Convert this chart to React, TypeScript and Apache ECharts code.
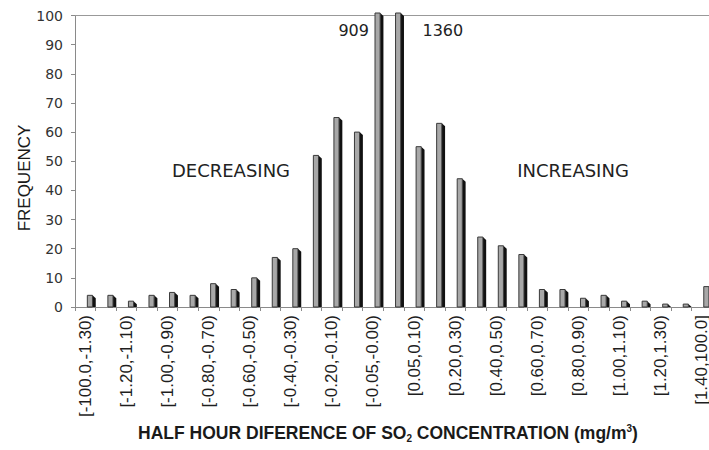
import React, { useEffect, useRef } from "react";
import * as echarts from "echarts";

const categories = [
  "[-100.0,-1.30)", "[-1.30,-1.20)", "[-1.20,-1.10)", "[-1.10,-1.00)", "[-1.00,-0.90)",
  "[-0.90,-0.80)", "[-0.80,-0.70)", "[-0.70,-0.60)", "[-0.60,-0.50)", "[-0.50,-0.40)",
  "[-0.40,-0.30)", "[-0.30,-0.20)", "[-0.20,-0.10)", "[-0.10,-0.05)", "[-0.05,-0.00)",
  "[0.00,0.05)", "[0.05,0.10)", "[0.10,0.20)", "[0.20,0.30)", "[0.30,0.40)",
  "[0.40,0.50)", "[0.50,0.60)", "[0.60,0.70)", "[0.70,0.80)", "[0.80,0.90)",
  "[0.90,1.00)", "[1.00,1.10)", "[1.10,1.20)", "[1.20,1.30)", "[1.30,1.40)",
  "[1.40,100.0]",
];

const frequency = [
  4, 4, 2, 4, 5, 4, 8, 6, 10, 17, 20, 52, 65, 60, 909,
  1360, 55, 63, 44, 24, 21, 18, 6, 6, 3, 4, 2, 2, 1, 1, 7,
];

const yMin = 0;
const yMax = 100;
const yInterval = 10;

const regionLabels = ["DECREASING", "INCREASING"];
const yTitle = "FREQUENCY";

export default function App() {
  const ref = useRef<HTMLDivElement>(null);

  useEffect(() => {
    if (!ref.current) return;
    const chart = echarts.init(ref.current, null, { renderer: "svg" });

    const renderItem = (params: any, api: any) => {
      const idx = api.value(0);
      const v = api.value(1);
      const shown = Math.min(v, yMax);
      const base = api.coord([idx, 0]);
      const top = api.coord([idx, shown]);
      const bw = api.size([1, 0])[0];
      const cx = base[0];
      const faceX = cx + bw * 0.1;
      const faceW = bw * 0.25;
      const sideW = bw * 0.16;
      const topY = v > yMax ? top[1] - 2.5 : top[1];
      const dip = Math.min(3, base[1] - topY);
      const children: any[] = [
        {
          type: "polygon",
          shape: {
            points: [
              [faceX + faceW, topY],
              [faceX + faceW + sideW, topY + dip],
              [faceX + faceW + sideW, base[1]],
              [faceX + faceW, base[1]],
            ],
          },
          style: { fill: "#111111" },
        },
        {
          type: "rect",
          shape: { x: faceX, y: topY, width: faceW, height: base[1] - topY },
          style: { fill: "#a8a8a8", stroke: "#3a3a3a", lineWidth: 1 },
        },
      ];
      if (v > yMax) {
        const nextOver = idx + 1 < frequency.length && frequency[idx + 1] > yMax;
        children.push({
          type: "text",
          style: {
            text: String(v),
            x: nextOver ? cx - 4 : cx + 29,
            y: top[1] + 15,
            align: nextOver ? "right" : "left",
            verticalAlign: "middle",
            fontSize: 16,
            fontFamily: "DejaVu Sans",
            fill: "#222222",
          },
        });
      }
      return { type: "group", children };
    };

    chart.setOption({
      animation: false,
      backgroundColor: "#ffffff",
      grid: {
        left: 75,
        top: 15.5,
        width: 637,
        height: 291.5,
        containLabel: false,
        outerBoundsMode: "none",
      },
      xAxis: [
        {
          type: "category",
          data: categories,
          position: "bottom",
          axisLine: { show: true, lineStyle: { color: "#8a8a8a", width: 1 } },
          axisTick: { show: true, interval: 0, length: 4, lineStyle: { color: "#8a8a8a" } },
          axisLabel: {
            interval: 1,
            rotate: 90,
            margin: 8,
            fontSize: 17,
            fontFamily: "Liberation Sans",
            color: "#1e1e1e",
          },
          splitLine: { show: false },
        },
        {
          type: "category",
          data: categories,
          position: "top",
          axisLine: { show: true, lineStyle: { color: "#999999", width: 1 } },
          axisTick: { show: false },
          axisLabel: { show: false },
          splitLine: { show: false },
        },
      ],
      yAxis: {
        type: "value",
        min: yMin,
        max: yMax,
        interval: yInterval,
        axisLine: { show: true, lineStyle: { color: "#8a8a8a", width: 1 } },
        axisTick: { show: true, length: 4, lineStyle: { color: "#8a8a8a" } },
        axisLabel: {
          margin: 12,
          fontSize: 14,
          fontFamily: "DejaVu Sans",
          color: "#333333",
        },
        splitLine: { show: false },
      },
      graphic: [
        {
          type: "text",
          x: 231,
          y: 170,
          style: {
            text: regionLabels[0],
            align: "center",
            verticalAlign: "middle",
            fontSize: 18,
            fontFamily: "DejaVu Sans",
            fill: "#222222",
          },
        },
        {
          type: "text",
          x: 573,
          y: 170,
          style: {
            text: regionLabels[1],
            align: "center",
            verticalAlign: "middle",
            fontSize: 18,
            fontFamily: "DejaVu Sans",
            fill: "#222222",
          },
        },
        {
          type: "text",
          x: 24,
          y: 178,
          rotation: Math.PI / 2,
          style: {
            text: yTitle,
            align: "center",
            verticalAlign: "middle",
            fontSize: 17,
            fontFamily: "Liberation Sans",
            fill: "#1a1a1a",
          },
        },
        {
          type: "text",
          x: 388,
          y: 433,
          style: {
            text: "{b|HALF HOUR DIFERENCE OF SO}{sub|2}{b| CONCENTRATION (mg/m}{sup|3}{b|)}",
            align: "center",
            verticalAlign: "middle",
            rich: {
              b: {
                fontSize: 17.5,
                fontWeight: "bold",
                fontFamily: "Liberation Sans",
                fill: "#1a1a1a",
                lineHeight: 20,
              },
              sub: {
                fontSize: 10,
                fontWeight: "bold",
                fontFamily: "Liberation Sans",
                fill: "#1a1a1a",
                lineHeight: 12,
                verticalAlign: "bottom",
              },
              sup: {
                fontSize: 10,
                fontWeight: "bold",
                fontFamily: "Liberation Sans",
                fill: "#1a1a1a",
                lineHeight: 12,
                verticalAlign: "top",
              },
            },
          },
        },
      ],
      series: [
        {
          type: "custom",
          xAxisIndex: 0,
          yAxisIndex: 0,
          renderItem,
          clip: false,
          encode: { x: 0, y: 1 },
          data: frequency.map((v, i) => [i, v]),
        },
      ],
    });

    return () => chart.dispose();
  }, []);

  return (
    <div
      ref={ref}
      style={{ position: "fixed", left: 0, top: 0, width: 709, height: 450 }}
    />
  );
}
